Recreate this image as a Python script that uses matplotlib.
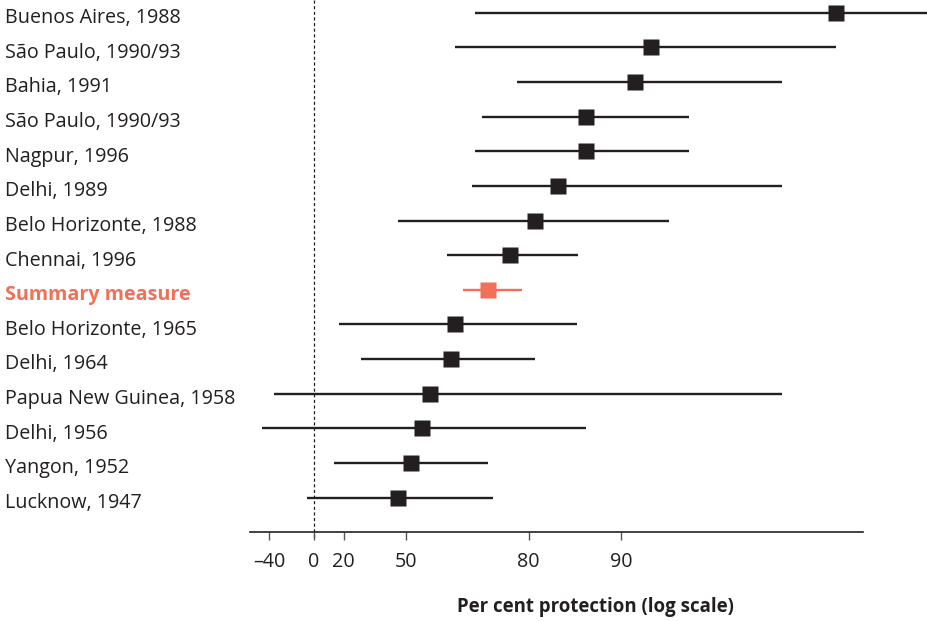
import numpy as np
import matplotlib.pyplot as plt
import matplotlib.transforms as mtransforms

plt.rcParams['font.family'] = ['Open Sans', 'DejaVu Sans']

# Trials, top to bottom
labels = ['Buenos Aires, 1988', 'São Paulo, 1990/93', 'Bahia, 1991', 'São Paulo, 1990/93',
          'Nagpur, 1996', 'Delhi, 1989', 'Belo Horizonte, 1988', 'Chennai, 1996',
          'Summary measure', 'Belo Horizonte, 1965', 'Delhi, 1964', 'Papua New Guinea, 1958',
          'Delhi, 1956', 'Yangon, 1952', 'Lucknow, 1947']
# per cent protection: point estimate and 95% CI
estimate = [98.0, 92.0, 91.0, 87.0, 87.0, 83.9, 81.0, 77.0, 72.8, 65.2, 64.2, 58.0, 55.5, 51.6, 46.7]
lower = [70.1, 65.3, 78.2, 71.6, 70.1, 69.4, 46.9, 63.2, 67.4, 17.3, 29.9, -34.7, -47.7, 13.7, -5.6]
upper = [99.0, 98.0, 97.0, 94.0, 94.0, 97.0, 93.0, 86.2, 79.0, 86.1, 81.0, 97.0, 87.0, 72.9, 73.8]
summary_index = 8

tick_values = [-40, 0, 20, 50, 80, 90]
tick_labels = ['\u201340', '0', '20', '50', '80', '90']

dark = '#231f20'
salmon = '#f26f58'


def to_log(p):
    # log relative risk, sign flipped so protection grows to the right
    return -np.log(1 - np.asarray(p, dtype=float) / 100.0)


fig = plt.figure(figsize=(9.27, 6.21), dpi=100)
ax = fig.add_axes([250 / 927, 1 - 532.3 / 621, (863 - 250) / 927, 532.3 / 621])

est = to_log(estimate)
lo = to_log(lower)
hi = to_log(upper)
rows = np.arange(len(labels))

for i in rows:
    col = salmon if i == summary_index else dark
    ax.plot([lo[i], hi[i]], [i, i], color=col, lw=1.7, solid_capstyle='butt', clip_on=False, zorder=2)
    ax.plot(est[i], i, marker='s', ms=11.5, color=col, mec='none', clip_on=False, zorder=3)

# null effect line
ax.plot([0, 0], [-0.37, 15.22], color=dark, lw=0.9, ls=(0, (2.5, 2)), clip_on=False, zorder=1)

ax.set_xlim((250 - 314) / 133.33, (863 - 314) / 133.33)
ax.set_ylim(15.0, -0.367)

for s in ['top', 'right', 'left']:
    ax.spines[s].set_visible(False)
ax.spines['bottom'].set_color(dark)
ax.spines['bottom'].set_linewidth(1.2)
ax.set_yticks([])
ax.set_xticks(to_log(tick_values))
ax.set_xticklabels(tick_labels, fontsize=14.2, color=dark)
ax.tick_params(axis='x', direction='out', length=6, width=1, color='#555555', pad=8)

trans = mtransforms.blended_transform_factory(fig.transFigure, ax.transData)
for i, lab in enumerate(labels):
    if i == summary_index:
        ax.text(5 / 927, i + 0.3, lab, transform=trans, fontsize=14.2, color=salmon,
                fontweight='bold', va='baseline', ha='left')
    else:
        ax.text(5 / 927, i + 0.3, lab, transform=trans, fontsize=14.2, color=dark,
                va='baseline', ha='left')

fig.text(595 / 927, 1 - 607 / 621, 'Per cent protection (log scale)', fontsize=13.4,
         fontweight='bold', color=dark, ha='center', va='center')

fig.savefig('out.png', dpi=100)
